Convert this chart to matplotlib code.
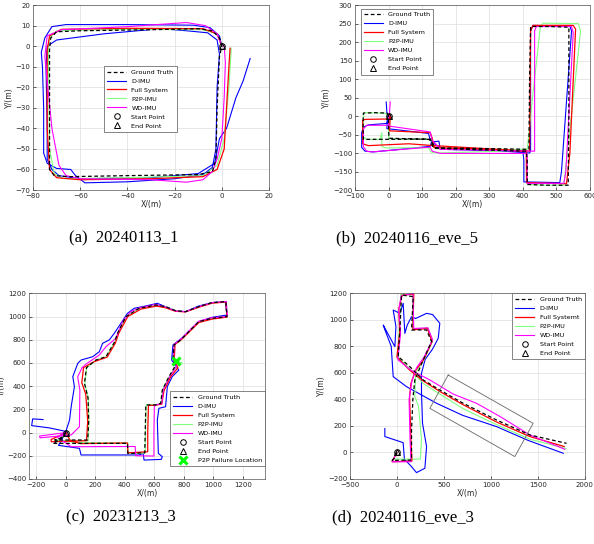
import numpy as np
import matplotlib.pyplot as plt

# ---------------- (a) 20240113_1 ----------------
a_gt = np.array([(0, 0), (-1, 4), (-4, 7.5), (-10, 8.5), (-30, 8), (-60, 7.5), (-70, 7), (-72.5, 4),
                 (-73, -2), (-73, -30), (-73, -60), (-71, -63), (-65, -63.5), (-40, -63), (-10, -62.5),
                 (-4, -61), (-2.5, -55), (-2, -30), (-1, -5), (0, 0)])
a_dimu = np.array([(0, 0), (-1, 5), (-5, 9), (-12, 10.2), (-40, 10.5), (-66, 10.5), (-72, 9.5), (-75, 4),
                   (-76.5, -3), (-76, -10), (-75.5, -30), (-75.5, -52), (-74, -57), (-70, -59.5), (-64, -60),
                   (-62, -63), (-58, -66.5), (-40, -66), (-20, -64.5), (-8, -62.5), (-4, -59), (-2.5, -50),
                   (-2, -20), (-1, -4), (-2, 3), (-6, 6.5), (-15, 7.5), (-26, 8.5), (-50, 6), (-70, 3),
                   (-74, 0), (-74.5, -10), (-74, -40), (-74, -55), (-72, -60), (-69, -63), (-60, -64.5),
                   (-30, -64), (-10, -62), (-3, -57), (-1, -45), (2, -40), (6, -25), (9, -17), (12, -6)])
a_full = np.array([(0, 0), (-2, 6), (-8, 8.5), (-40, 8.7), (-68, 8.2), (-73, 5), (-74, -2), (-74, -40),
                   (-73, -60), (-70, -64), (-60, -65), (-30, -64.5), (-8, -63.5), (-2, -60), (1, -50),
                   (2, -30), (3, -10), (3.5, -1)])
a_p2p = np.array([(0, 0), (-2, 6), (-8, 8), (-40, 8.2), (-70, 7.5), (-73, 4), (-73.5, -2), (-73, -50),
                  (-71, -62), (-67, -64.5), (-40, -64), (-8, -63), (-2, -58), (1, -45), (3, -20), (4, -1)])
a_wd = np.array([(0, 0), (-2, 6), (-7, 10), (-15, 11.5), (-40, 9.5), (-68, 8), (-74, 5), (-75, -5),
                 (-72, -40), (-69, -58), (-66, -63), (-60, -64.5), (-30, -65), (-15, -66.2), (-8, -65),
                 (-4, -61), (-2, -55), (0, -45), (1, -25), (1.5, -8), (1, 0)])

# ---------------- (b) 20240116_eve_5 ----------------
b_gt = np.array([(0, 0), (-5, 8), (-40, 9), (-75, 8), (-76, -20), (-75, -63), (0, -63), (125, -62),
                 (130, -80), (135, -87), (300, -92), (410, -95), (413, -120), (413, -185), (470, -187),
                 (535, -187), (537, 0), (537, 240), (480, 242), (423, 242), (420, 100), (418, -90),
                 (300, -88), (140, -86), (128, -70), (120, -63), (2, -60), (0, -40), (0, 0)])
b_dimu = np.array([(-7, 38), (-5, 10), (0, 0), (-5, -20), (-60, -24), (-75, -30), (-80, -45), (-80, -85),
                   (-70, -95), (-45, -97), (124, -82), (128, -70), (150, -68), (154, -90), (400, -95),
                   (403, -120), (403, -178), (510, -180), (515, -150), (545, 230), (540, 243), (430, 245),
                   (423, 230), (423, -95), (420, -100), (300, -92), (154, -88), (124, -65), (119, -47),
                   (-5, -34), (-3, 0)])
b_full = np.array([(5, 0), (3, -40), (124, -45), (130, -60), (135, -85), (410, -95), (411, -180),
                   (530, -183), (540, -100), (557, 235), (550, 245), (430, 245), (423, 230), (420, -95),
                   (135, -80), (60, -75), (-60, -80), (-77, -75), (-77, -12), (-70, -9), (3, -8), (5, 3)])
b_p2p = np.array([(0, 0), (-10, 8), (-73, 9), (-75, -5), (-75, -58), (-65, -63), (-25, -63), (-20, -45),
                  (-20, -82), (-10, -86), (120, -86), (125, -97), (145, -100), (300, -96), (410, -92),
                  (413, -130), (413, -185), (470, -187), (522, -187), (572, 230), (565, 250),
                  (460, 251), (452, 240), (430, 60), (413, -90), (300, -90), (140, -88), (128, -65),
                  (110, -63), (0, -62), (0, 0)])
b_wd = np.array([(5, 38), (3, 10), (0, 0), (0, -25), (-65, -25), (-75, -35), (-75, -83), (-65, -95),
                 (-50, -97), (124, -84), (130, -95), (154, -101), (413, -101), (413, -182), (522, -182),
                 (528, -150), (550, 225), (545, 242), (440, 242), (435, 230), (435, -95), (154, -90),
                 (130, -65), (124, -43), (0, -27), (0, 0)])

# ---------------- (c) 20231213_3 ----------------
c_gt = np.array([(0, 0), (-20, -40), (-76, -64), (148, -64), (155, 100), (150, 300), (126, 424), (140, 560),
                 (204, 625), (272, 654), (330, 780), (350, 855), (407, 999), (497, 1071), (609, 1099),
                 (676, 1085), (744, 1050), (811, 1042), (901, 1085), (991, 1120), (1085, 1128), (1092, 999),
                 (991, 985), (901, 956), (845, 884), (778, 798), (733, 755), (726, 625), (744, 580),
                 (699, 482), (654, 367), (643, 252), (609, 238), (542, 238), (538, 0), (535, -175),
                 (420, -180), (418, -93), (200, -93), (-88, -93), (-40, -60), (0, 0)])
c_dimu = np.array([(-155, 112), (-225, 118), (-232, 60), (-110, 40), (0, 10), (25, 108), (36, 223),
                   (58, 396), (47, 482), (81, 597), (103, 625), (182, 654), (227, 697), (249, 769),
                   (294, 798), (328, 855), (373, 941), (418, 1028), (463, 1071), (542, 1091), (620, 1114),
                   (676, 1085), (744, 1050), (811, 1042), (901, 1091), (991, 1120), (1081, 1128),
                   (1092, 1013), (991, 993), (901, 956), (845, 884), (784, 812), (726, 755), (717, 625),
                   (766, 539), (721, 482), (688, 396), (676, 223), (631, 209), (620, 108), (627, -179),
                   (654, -208), (647, -231), (530, -237), (524, -179), (497, -193), (103, -193),
                   (92, -136), (-50, -110), (0, 0)])
c_full = np.array([(0, 0), (-100, -60), (-99, -79), (140, -70), (148, 100), (135, 330), (108, 430),
                   (120, 560), (190, 610), (280, 650), (335, 770), (360, 860), (420, 1000), (510, 1065),
                   (615, 1090), (676, 1075), (744, 1045), (811, 1040), (901, 1080), (991, 1115),
                   (1085, 1125), (1092, 995), (991, 978), (901, 948), (845, 878), (778, 795), (740, 760),
                   (735, 625), (760, 560), (710, 480), (665, 360), (650, 245), (600, 235), (560, 235),
                   (555, 0), (555, -165), (420, -175), (418, -90), (100, -95), (30, -70), (0, 0)])
c_p2p = np.array([(0, 0), (-20, -40), (-70, -70), (150, -70), (156, 100), (152, 300), (128, 424),
                  (142, 560), (206, 625), (274, 654), (332, 780), (352, 855), (409, 999), (499, 1071),
                  (611, 1099), (678, 1085), (746, 1050), (813, 1042), (903, 1085), (993, 1120),
                  (1087, 1128), (1094, 999), (993, 985), (903, 956), (847, 884), (780, 798), (735, 755),
                  (730, 630), (790, 600), (740, 560), (700, 480), (655, 367), (644, 252), (610, 240),
                  (545, 240), (540, 0), (537, -177), (422, -180), (420, -90), (200, -88), (40, -85), (0, 0)])
c_wd = np.array([(0, 0), (-178, -30), (-175, -45), (36, -21), (92, 51), (95, 367), (80, 480), (110, 560),
                 (137, 590), (227, 669), (272, 740), (339, 812), (384, 956), (440, 1042), (500, 1075),
                 (609, 1105), (676, 1083), (744, 1048), (811, 1042), (901, 1085), (991, 1120), (1088, 1130),
                 (1095, 1000), (991, 990), (901, 960), (845, 890), (778, 803), (733, 760), (730, 625),
                 (750, 570), (705, 485), (660, 370), (650, 250), (610, 240), (600, 223), (597, 0),
                 (597, -202), (474, -200), (470, -120), (36, -122), (-60, -40), (0, 0)])
c_fail = (750, 615)

# ---------------- (d) 20240116_eve_3 ----------------
d_gt = np.array([(0, 0), (-10, -30), (-50, -60), (156, -57), (156, 170), (170, 400), (191, 547), (280, 697),
                 (369, 836), (316, 924), (156, 924), (174, 1175), (50, 1187), (32, 924), (14, 723),
                 (138, 647), (280, 547), (457, 471), (705, 371), (1060, 245), (1415, 132), (1805, 69)])
d_dimu = np.array([(-128, 180), (-128, 120), (67, 74), (80, -50), (156, -107), (209, -152), (298, -119),
                   (316, 44), (273, 220), (262, 450), (262, 597), (300, 700), (380, 780), (440, 861),
                   (457, 974), (380, 1040), (316, 1049), (200, 1010), (156, 1024), (110, 960), (85, 898),
                   (67, 1125), (32, 1049), (-39, 1074), (-10, 950), (-21, 798), (-145, 961), (-130, 930),
                   (-60, 800), (-39, 572), (103, 496), (422, 371), (700, 280), (1060, 195), (1400, 90),
                   (1770, -6)])
d_full = np.array([(0, 0), (-50, -70), (160, -65), (150, 100), (135, 420), (150, 520), (200, 620), (285, 700),
                   (375, 835), (325, 935), (170, 925), (180, 1195), (55, 1185), (20, 1080), (30, 900),
                   (0, 720), (138, 620), (280, 540), (457, 460), (705, 360), (1060, 230), (1415, 120),
                   (1780, 45)])
d_p2p = np.array([(0, 0), (-40, -50), (250, -50), (262, 100), (230, 350), (191, 421), (200, 600), (290, 700),
                  (380, 840), (330, 940), (170, 930), (165, 1195), (40, 1190), (25, 924), (10, 720),
                  (140, 630), (280, 520), (457, 440), (705, 330), (1060, 210), (1415, 100), (1800, 30)])
d_wd = np.array([(0, 0), (-50, -70), (150, -70), (140, 100), (130, 400), (160, 540), (210, 640), (290, 720),
                 (380, 850), (330, 940), (180, 935), (170, 1200), (45, 1180), (20, 1070), (40, 900),
                 (10, 700), (150, 620), (351, 547), (600, 440), (847, 371), (1100, 270), (1415, 132),
                 (1787, 24)])
d_box = np.array([(546, 584), (1450, 220), (1255, -31), (351, 333), (546, 584)])

names = ['Ground Truth', 'D-IMU', 'Full System', 'P2P-IMU', 'WD-IMU', 'Start Point', 'End Point']
colors = {'dimu': '#0000FF', 'full': '#FF0000', 'p2p': '#80FF80', 'wd': '#FF00FF'}
tick_col = '#262626'

fig = plt.figure(figsize=(5.94, 5.44), dpi=100)


def panel(rect, gt, dimu, full, p2p, wd, xlim, ylim, xt, yt, full_name='Full System'):
    ax = fig.add_axes(rect)
    ax.plot(dimu[:, 0], dimu[:, 1], color=colors['dimu'], lw=0.8, label='D-IMU')
    ax.plot(p2p[:, 0], p2p[:, 1], color=colors['p2p'], lw=0.8, label='P2P-IMU')
    ax.plot(full[:, 0], full[:, 1], color=colors['full'], lw=0.9, label=full_name)
    ax.plot(wd[:, 0], wd[:, 1], color=colors['wd'], lw=0.8, label='WD-IMU')
    ax.plot(gt[:, 0], gt[:, 1], 'k--', lw=0.9, dashes=(3, 2), label='Ground Truth')
    ax.plot([0], [0], 'o', ms=4, mfc='none', mec='k', mew=0.7, label='Start Point')
    ax.plot([0], [0], '^', ms=4, mfc='none', mec='k', mew=0.7, label='End Point')
    ax.set_xlim(xlim)
    ax.set_ylim(ylim)
    ax.set_xticks(xt)
    ax.set_yticks(yt)
    ax.grid(True, color='#DDDDDD', lw=0.5)
    ax.set_axisbelow(True)
    ax.tick_params(direction='in', length=2, width=0.5, labelsize=5, colors=tick_col, pad=2)
    for s in ax.spines.values():
        s.set_linewidth(0.5)
        s.set_color('#555555')
    ax.set_xlabel('X/(m)', fontsize=5.5, color=tick_col, labelpad=1)
    ax.set_ylabel('Y/(m)', fontsize=5.5, color=tick_col, labelpad=1)
    return ax


def add_legend(ax, order, **kw):
    h, l = ax.get_legend_handles_labels()
    d = dict(zip(l, h))
    leg = ax.legend([d[o] for o in order], order, fontsize=4.6, handlelength=3.0,
                    labelspacing=0.55, fancybox=False, framealpha=1, edgecolor='#555555',
                    borderpad=0.5, handletextpad=0.8, **kw)
    leg.get_frame().set_linewidth(0.5)
    return leg


ax = panel([0.0556, 0.6507, 0.3973, 0.34], a_gt, a_dimu, a_full, a_p2p, a_wd,
           (-80, 20), (-70, 20), np.arange(-80, 21, 20), np.arange(-70, 21, 10))
add_legend(ax, names, loc='upper left', bbox_to_anchor=(0.30, 0.67), borderaxespad=0)

ax = panel([0.5976, 0.6507, 0.3957, 0.34], b_gt, b_dimu, b_full, b_p2p, b_wd,
           (-100, 600), (-200, 300), np.arange(-100, 601, 100), np.arange(-200, 301, 50))
add_legend(ax, names, loc='upper left', bbox_to_anchor=(0.024, 0.98), borderaxespad=0)

ax = panel([0.0488, 0.1195, 0.3973, 0.3413], c_gt, c_dimu, c_full, c_p2p, c_wd,
           (-250, 1350), (-400, 1200), np.arange(-200, 1201, 200), np.arange(-400, 1201, 200))
ax.plot([c_fail[0]], [c_fail[1]], 'x', color='#00FF00', ms=6, mew=2.2, label='P2P Failure Location')
add_legend(ax, names + ['P2P Failure Location'], loc='lower right', bbox_to_anchor=(1.0, 0.07),
           borderaxespad=0)

ax = panel([0.589, 0.1195, 0.3956, 0.3413], d_gt, d_dimu, d_full, d_p2p, d_wd,
           (-500, 2000), (-200, 1200), np.arange(-500, 2001, 500), np.arange(-200, 1201, 200),
           full_name='Full Systemt')
ax.plot(d_box[:, 0], d_box[:, 1], color='#666666', lw=0.6)
add_legend(ax, ['Ground Truth', 'D-IMU', 'Full Systemt', 'P2P-IMU', 'WD-IMU', 'Start Point', 'End Point'],
           loc='upper right', bbox_to_anchor=(1.0, 1.0), borderaxespad=0)

cap = dict(family='Liberation Serif', fontsize=12, ha='center', va='center')
fig.text(0.209, 0.5625, '(a)  20240113_1', **cap)
fig.text(0.685, 0.5625, '(b)  20240116_eve_5', **cap)
fig.text(0.204, 0.048, '(c)  20231213_3', **cap)
fig.text(0.679, 0.048, '(d)  20240116_eve_3', **cap)

fig.savefig('out.png', dpi=100)
